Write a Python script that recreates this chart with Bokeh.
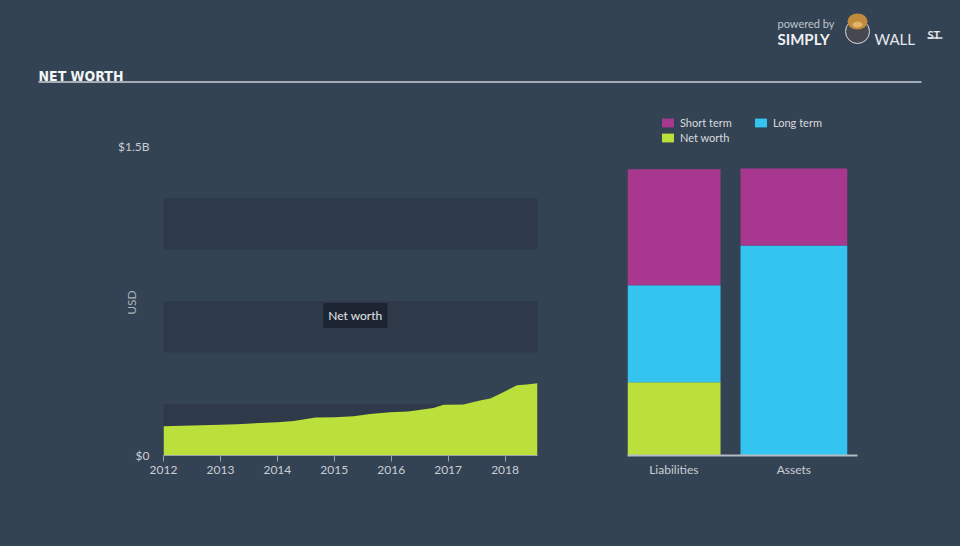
import math
from bokeh.plotting import figure
from bokeh.layouts import column, row
from bokeh.models import (Range1d, FixedTicker, Label, Legend, LegendItem,
                          ColumnDataSource)
from bokeh.core.properties import value
from bokeh.embed import file_html
from bokeh.resources import INLINE

# ---------------- data ----------------
nw_dates = [2012.0, 2013.0, 2013.29, 2014.0, 2014.29, 2014.67, 2015.0, 2015.34,
            2015.63, 2015.98, 2016.30, 2016.74, 2016.92, 2017.27, 2017.56,
            2017.74, 2017.97, 2018.21, 2018.38, 2018.57]
nw_values_b = [0.142, 0.149, 0.152, 0.162, 0.167, 0.184, 0.186, 0.191,
               0.202, 0.210, 0.213, 0.231, 0.246, 0.247, 0.267,
               0.277, 0.307, 0.341, 0.345, 0.351]

year_ticks = [2012, 2013, 2014, 2015, 2016, 2017, 2018]
y_tick_values = [0, 1_500_000_000]
y_tick_labels = ["$0", "$1.5B"]

bar_categories = ["Liabilities", "Assets"]
bar_net_worth_b = [0.355, 0.0]
bar_long_term_b = [0.471, 1.019]
bar_short_term_b = [0.563, 0.374]

# ---------------- style ----------------
BG = "#344354"
BAND = "#2e3a4a"
LIME = "#bbdf3b"
CYAN = "#34c4f0"
MAGENTA = "#a8378f"
TXT = "#c9ced4"
FONT = "Lato"
STY = {"background-color": BG}

PX_PER_B = 309 / 1.5          # pixels per billion (from the reference)
FRAME_H = 446 - 91            # frame height of the chart row
Y_END = FRAME_H / PX_PER_B * 1e9


def base_fig(**kw):
    f = figure(output_backend="svg", toolbar_location=None,
               background_fill_color=BG, background_fill_alpha=0,
               border_fill_color=BG, outline_line_color=None, styles=STY, **kw)
    f.grid.visible = False
    return f


# ---------------- header (title + logo) ----------------
header = base_fig(width=960, height=100, x_range=Range1d(0, 960), y_range=Range1d(100, 0),
                  min_border=0, x_axis_location=None, y_axis_location=None)
header.text(x=[38], y=[75.5], text=["NET WORTH"],
            text_font=value("'DejaVu Sans Condensed', 'DejaVu Sans', sans-serif"),
            text_font_style="bold", text_font_size="14px", text_color="#f2f4f6",
            text_baseline="alphabetic")
header.segment(x0=[38], y0=[81.5], x1=[921], y1=[81.5], line_color="#a4acb5", line_width=2)
header.text(x=[777], y=[23], text=["powered by"], text_font=value(FONT),
            text_font_size="11px", text_color="#bfc5cc", text_baseline="alphabetic")
header.text(x=[777], y=[38], text=["SIMPLY"], text_font=value(FONT), text_font_style="bold",
            text_font_size="15px", text_color="#eef0f2", text_baseline="alphabetic")
header.circle(x=[857], y=[31], radius=12, fill_color="#45494f", line_color="#d9dcdf", line_width=1)
header.ellipse(x=[857], y=[21], width=20, height=16, fill_color="#c08a3c", line_color=None)
header.ellipse(x=[857], y=[24], width=10, height=6, fill_color="#e2b46a", line_color=None)
header.text(x=[874], y=[38], text=["WALL"], text_font=value(FONT),
            text_font_size="15px", text_color="#e6e9ec", text_baseline="alphabetic")
header.text(x=[927], y=[34], text=["ST"], text_font=value(FONT), text_font_style="bold",
            text_font_size="11px", text_color="#e6e9ec", text_baseline="alphabetic")
header.segment(x0=[927], y0=[37.5], x1=[942], y1=[37.5], line_color="#e6e9ec", line_width=1.5)

# ---------------- left: net worth area ----------------
left = base_fig(width=600, height=446, x_range=Range1d(nw_dates[0], nw_dates[-1]),
                y_range=Range1d(0, Y_END),
                min_border_left=163, min_border_right=63, min_border_top=0, min_border_bottom=91)

band_step = 0.25e9
band_bottoms = [2 * i * band_step for i in range(3)]
band_tops = [b + band_step for b in band_bottoms]
left.quad(left=nw_dates[0], right=nw_dates[-1], bottom=band_bottoms, top=band_tops,
          fill_color=BAND, line_color=None)
left.varea(x=nw_dates, y1=[0] * len(nw_dates), y2=[v * 1e9 for v in nw_values_b],
           fill_color=LIME)

xa = left.xaxis[0]
xa.ticker = FixedTicker(ticks=year_ticks)
xa.axis_line_color = "#9aa3ad"
xa.major_tick_line_color = "#9aa3ad"
xa.major_tick_out = 6
xa.major_tick_in = 0
xa.minor_tick_line_color = None
xa.major_label_standoff = 4
xa.major_label_text_font = FONT
xa.major_label_text_font_size = "12px"
xa.major_label_text_color = TXT

ya = left.yaxis[0]
ya.ticker = FixedTicker(ticks=y_tick_values)
ya.major_label_overrides = dict(zip(y_tick_values, y_tick_labels))
ya.axis_line_color = None
ya.major_tick_line_color = None
ya.major_tick_out = 0
ya.major_tick_in = 0
ya.minor_tick_line_color = None
ya.major_label_standoff = 14
ya.major_label_text_font = FONT
ya.major_label_text_font_size = "12px"
ya.major_label_text_color = TXT
# non-breaking spaces after the label centre "USD" on the $0-$1.5B span, as in the reference
ya.axis_label = "USD" + "\u00a0" * 16
ya.axis_label_standoff = -24
ya.axis_label_text_font = FONT
ya.axis_label_text_font_style = "normal"
ya.axis_label_text_font_size = "12px"
ya.axis_label_text_color = "#aab1b9"

left.add_layout(Label(x=2015.37, y=0.68e9, text="Net worth", text_align="center",
                      text_baseline="middle", text_font=FONT, text_font_size="12px",
                      text_color="#e4e7ea", background_fill_color="#1c2430",
                      background_fill_alpha=0.95, padding=5))

# ---------------- right: balance bars ----------------
right = base_fig(width=360, height=446, x_range=Range1d(-0.386, 1.530),
                 y_range=Range1d(0, Y_END),
                 min_border_left=27, min_border_right=103, min_border_top=0, min_border_bottom=91,
                 y_axis_location=None)

src = ColumnDataSource(dict(
    x=list(range(len(bar_categories))),
    w=[0.778, 0.889],
    net=[v * 1e9 for v in bar_net_worth_b],
    long=[v * 1e9 for v in bar_long_term_b],
    short=[v * 1e9 for v in bar_short_term_b],
))
rs = right.vbar_stack(["net", "long", "short"], x="x", width="w", source=src,
                      fill_color=[LIME, CYAN, MAGENTA], line_color=None)

bx = right.xaxis[0]
bx.ticker = FixedTicker(ticks=list(range(len(bar_categories))))
bx.major_label_overrides = dict(zip(range(len(bar_categories)), bar_categories))
bx.axis_line_color = "#b3bac2"
bx.axis_line_width = 2
bx.major_tick_line_color = None
bx.major_tick_out = 0
bx.major_tick_in = 0
bx.minor_tick_line_color = None
bx.major_label_standoff = 6
bx.major_label_text_font = FONT
bx.major_label_text_font_size = "12px"
bx.major_label_text_color = TXT

legend = Legend(items=[LegendItem(label="Short term", renderers=[rs[2]]),
                       LegendItem(label="Long term", renderers=[rs[1]]),
                       LegendItem(label="Net worth", renderers=[rs[0]])],
                location=(33, 311), orientation="horizontal", ncols=2,
                glyph_width=15, glyph_height=11, label_standoff=5,
                label_width=71, label_height=13, spacing=2, padding=0, margin=0,
                border_line_color=None, background_fill_alpha=0,
                label_text_font=FONT, label_text_font_size="11px",
                label_text_color="#d8dbdf")
right.add_layout(legend)

layout = column(header, row(left, right, spacing=0, styles=STY), spacing=0, styles=STY)
open("out.html", "w").write(file_html(layout, INLINE))
